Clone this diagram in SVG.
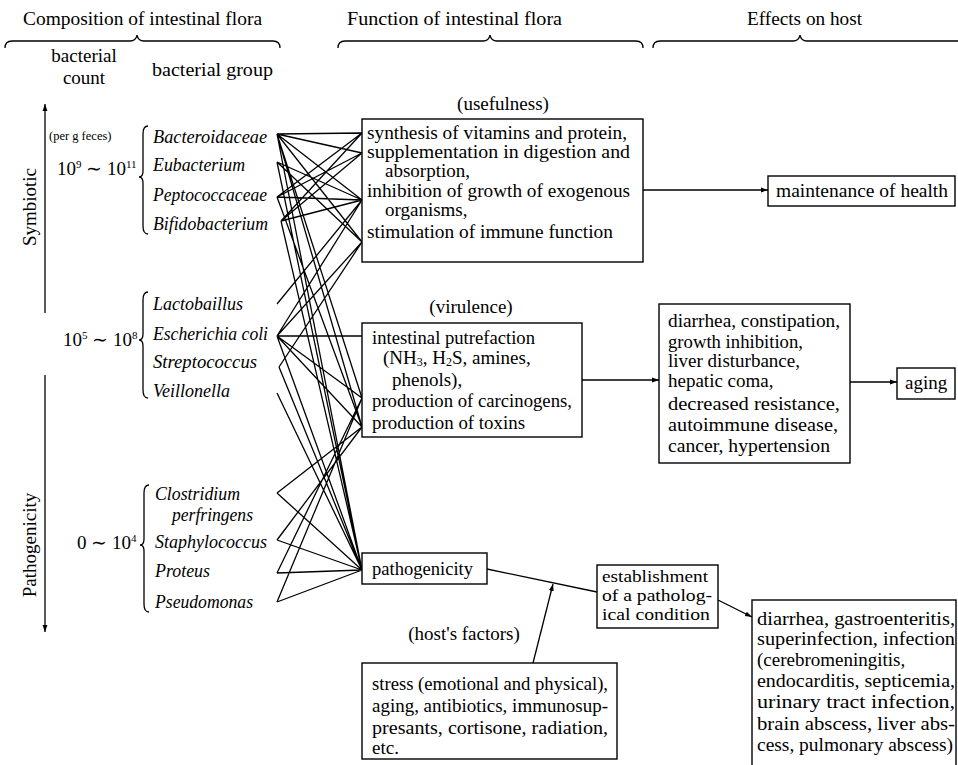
<svg xmlns="http://www.w3.org/2000/svg" width="958" height="765" viewBox="0 0 958 765">
<style>
.t{font-family:"Liberation Serif",serif;font-size:19px;fill:#000}
.e{font-family:"Liberation Serif",serif;font-size:17px;fill:#000}
.i{font-family:"Liberation Serif",serif;font-size:18.5px;font-style:italic;fill:#000}
.s{font-family:"Liberation Serif",serif;font-size:12.5px;fill:#000}
.box{fill:#fff;stroke:#000;stroke-width:1.4}
.ln{fill:none;stroke:#000;stroke-width:1.3}
.ar{fill:none;stroke:#000;stroke-width:1.3;marker-end:url(#ah)}
</style>
<defs>
<marker id="ah" viewBox="0 0 10 10" refX="10" refY="5" markerWidth="7" markerHeight="7" orient="auto" markerUnits="userSpaceOnUse">
<path d="M0,1.5 L10,5 L0,8.5 Z" fill="#000"/>
</marker>
</defs>
<rect width="958" height="765" fill="#fff"/>

<g id="headers">
<text class="t" x="23" y="25" textLength="239" lengthAdjust="spacingAndGlyphs">Composition of intestinal flora</text>
<path class="ln" d="M5,48 Q5,41 12,41 L130,41 Q136,41 137,35 Q138,41 144,41 L273,41 Q280,41 280,48"/>
<text class="t" x="347" y="25" textLength="215" lengthAdjust="spacingAndGlyphs">Function of intestinal flora</text>
<path class="ln" d="M338,48 Q338,41 345,41 L483,41 Q489,41 490,35 Q491,41 497,41 L636,41 Q643,41 643,48"/>
<text class="t" x="747" y="25" textLength="115" lengthAdjust="spacingAndGlyphs">Effects on host</text>
<path class="ln" d="M653,48 Q653,41 660,41 L793,41 Q799,41 800,35 Q801,41 807,41 L958,41"/>
<text class="t" x="84" y="62" text-anchor="middle">bacterial</text>
<text class="t" x="84" y="84" text-anchor="middle">count</text>
<text class="t" x="152" y="76" textLength="121" lengthAdjust="spacingAndGlyphs">bacterial group</text>
</g>

<g id="axis">
<line class="ar" x1="45" y1="313" x2="45" y2="104"/>
<line class="ar" x1="45" y1="375" x2="45" y2="632"/>
<text class="t" transform="translate(36,207) rotate(-90)" text-anchor="middle">Symbiotic</text>
<text class="t" transform="translate(36,545) rotate(-90)" text-anchor="middle">Pathogenicity</text>
</g>

<g id="group-symbiotic">
<text class="s" x="49" y="140">(per g feces)</text>
<text class="t" x="57" y="175">10<tspan font-size="11" dy="-7">9</tspan><tspan dy="7"> ∼ 10</tspan><tspan font-size="11" dy="-7">11</tspan></text>
<path class="ln" d="M148,126 Q143,126 143,134 L143,171 Q143,177 139,177 Q143,177 143,183 L143,226 Q143,234 148,234"/>
<text class="i" x="153" y="143" textLength="114" lengthAdjust="spacingAndGlyphs">Bacteroidaceae</text>
<text class="i" x="153" y="171" textLength="92" lengthAdjust="spacingAndGlyphs">Eubacterium</text>
<text class="i" x="153" y="201" textLength="114" lengthAdjust="spacingAndGlyphs">Peptococcaceae</text>
<text class="i" x="153" y="230" textLength="115" lengthAdjust="spacingAndGlyphs">Bifidobacterium</text>
</g>

<g id="group-mid">
<text class="t" x="63" y="346">10<tspan font-size="11" dy="-7">5</tspan><tspan dy="7"> ∼ 10</tspan><tspan font-size="11" dy="-7">8</tspan></text>
<path class="ln" d="M148,292 Q143,292 143,300 L143,334 Q143,340 139,340 Q143,340 143,346 L143,390 Q143,398 148,398"/>
<text class="i" x="153" y="310" textLength="90" lengthAdjust="spacingAndGlyphs">Lactobaillus</text>
<text class="i" x="153" y="340" textLength="115" lengthAdjust="spacingAndGlyphs">Escherichia coli</text>
<text class="i" x="153" y="368" textLength="104" lengthAdjust="spacingAndGlyphs">Streptococcus</text>
<text class="i" x="153" y="397" textLength="77" lengthAdjust="spacingAndGlyphs">Veillonella</text>
</g>

<g id="group-patho">
<text class="t" x="77" y="549">0 ∼ 10<tspan font-size="11" dy="-7">4</tspan></text>
<path class="ln" d="M149,485 Q144,485 144,493 L144,539 Q144,545 140,545 Q144,545 144,551 L144,604 Q144,612 149,612"/>
<text class="i" x="155" y="500" textLength="85" lengthAdjust="spacingAndGlyphs">Clostridium</text>
<text class="i" x="172" y="521" textLength="81" lengthAdjust="spacingAndGlyphs">perfringens</text>
<text class="i" x="155" y="548" textLength="112" lengthAdjust="spacingAndGlyphs">Staphylococcus</text>
<text class="i" x="155" y="577" textLength="55" lengthAdjust="spacingAndGlyphs">Proteus</text>
<text class="i" x="155" y="608" textLength="98" lengthAdjust="spacingAndGlyphs">Pseudomonas</text>
</g>

<g id="connectors">
<path class="ln" d="
M277,134 L362,133 M277,134 L362,153 M277,134 L362,200 M277,134 L362,242 M277,134 L362,398 M277,134 L362,427 M277,134 L362,570
M277,162 L362,200 M277,162 L362,242 M277,162 L362,570
M277,197 L362,133 M277,197 L362,153 M277,197 L362,200 M277,197 L362,427
M281,221 L362,133 M281,221 L362,153 M281,221 L362,200 M281,221 L362,570
M277,304 L362,200
M277,336 L362,242 M277,336 L362,200 M277,336 L362,336 M277,336 L362,398 M277,336 L362,427 M277,336 L362,570
M279,367 L362,242 M279,367 L362,570
M277,393 L362,570
M277,493 L362,427 M277,493 L362,570
M277,540 L362,427 M277,540 L362,570
M277,573 L362,398 M277,573 L362,570
M277,602 L362,398 M277,602 L362,570"/>
<line class="ar" x1="643" y1="190" x2="768" y2="190"/>
<line class="ar" x1="582" y1="380" x2="659" y2="380"/>
<line class="ar" x1="850" y1="382" x2="897" y2="382"/>
<line class="ln" x1="487" y1="569" x2="597" y2="592"/>
<line class="ar" x1="533" y1="663" x2="553" y2="584"/>
<line class="ar" x1="718" y1="600" x2="752" y2="617"/>
</g>

<g id="usefulness">
<text class="t" x="503" y="110" text-anchor="middle">(usefulness)</text>
<rect class="box" x="362" y="119" width="281" height="143"/>
<text class="t" x="367" y="139" textLength="260" lengthAdjust="spacingAndGlyphs">synthesis of vitamins and protein,</text>
<text class="t" x="367" y="158" textLength="263" lengthAdjust="spacingAndGlyphs">supplementation in digestion and</text>
<text class="t" x="385" y="177">absorption,</text>
<text class="t" x="367" y="197" textLength="263" lengthAdjust="spacingAndGlyphs">inhibition of growth of exogenous</text>
<text class="t" x="385" y="216">organisms,</text>
<text class="t" x="367" y="238" textLength="246" lengthAdjust="spacingAndGlyphs">stimulation of immune function</text>
</g>

<g id="maintenance">
<rect class="box" x="768" y="176" width="187" height="30"/>
<text class="t" x="776" y="197" textLength="172" lengthAdjust="spacingAndGlyphs">maintenance of health</text>
</g>

<g id="virulence">
<text class="t" x="471" y="313" text-anchor="middle">(virulence)</text>
<rect class="box" x="362" y="323" width="220" height="114"/>
<text class="t" x="372" y="344" textLength="163" lengthAdjust="spacingAndGlyphs">intestinal putrefaction</text>
<text class="t" x="383" y="364">(NH<tspan font-size="12" dy="2">3</tspan><tspan dy="-2">, H</tspan><tspan font-size="12" dy="2">2</tspan><tspan dy="-2">S, amines,</tspan></text>
<text class="t" x="392" y="386">phenols),</text>
<text class="t" x="372" y="407" textLength="200" lengthAdjust="spacingAndGlyphs">production of carcinogens,</text>
<text class="t" x="372" y="429" textLength="153" lengthAdjust="spacingAndGlyphs">production of toxins</text>
</g>

<g id="diseases">
<rect class="box" x="659" y="304" width="191" height="159"/>
<text class="t" x="668" y="327" textLength="172" lengthAdjust="spacingAndGlyphs">diarrhea, constipation,</text>
<text class="t" x="668" y="348" textLength="135" lengthAdjust="spacingAndGlyphs">growth inhibition,</text>
<text class="t" x="668" y="367" textLength="132" lengthAdjust="spacingAndGlyphs">liver disturbance,</text>
<text class="t" x="668" y="387">hepatic coma,</text>
<text class="t" x="668" y="410" textLength="172" lengthAdjust="spacingAndGlyphs">decreased  resistance,</text>
<text class="t" x="668" y="431" textLength="170" lengthAdjust="spacingAndGlyphs">autoimmune disease,</text>
<text class="t" x="668" y="452" textLength="162" lengthAdjust="spacingAndGlyphs">cancer, hypertension</text>
</g>

<g id="aging">
<rect class="box" x="897" y="368" width="58" height="31"/>
<text class="t" x="905" y="389">aging</text>
</g>

<g id="pathogenicity">
<rect class="box" x="362" y="553" width="125" height="31"/>
<text class="t" x="372" y="575" textLength="101" lengthAdjust="spacingAndGlyphs">pathogenicity</text>
</g>

<g id="establishment">
<rect class="box" x="597" y="565" width="121" height="63"/>
<text class="e" x="602" y="582" textLength="106" lengthAdjust="spacingAndGlyphs">establishment</text>
<text class="e" x="602" y="601" textLength="110" lengthAdjust="spacingAndGlyphs">of a patholog-</text>
<text class="e" x="602" y="620" textLength="108" lengthAdjust="spacingAndGlyphs">ical condition</text>
</g>

<g id="hostfactors">
<text class="t" x="464" y="640" text-anchor="middle">(host's factors)</text>
<rect class="box" x="362" y="663" width="255" height="96"/>
<text class="t" x="372" y="690" textLength="236" lengthAdjust="spacingAndGlyphs">stress (emotional and physical),</text>
<text class="t" x="372" y="712" textLength="236" lengthAdjust="spacingAndGlyphs">aging, antibiotics, immunosup-</text>
<text class="t" x="372" y="734" textLength="236" lengthAdjust="spacingAndGlyphs">presants, cortisone, radiation,</text>
<text class="t" x="372" y="754">etc.</text>
</g>

<g id="infections">
<rect class="box" x="752" y="600" width="204" height="170"/>
<text class="t" x="757" y="625" textLength="198" lengthAdjust="spacingAndGlyphs">diarrhea, gastroenteritis,</text>
<text class="t" x="757" y="645" textLength="198" lengthAdjust="spacingAndGlyphs">superinfection, infection</text>
<text class="t" x="757" y="666">(cerebromeningitis,</text>
<text class="t" x="757" y="687" textLength="198" lengthAdjust="spacingAndGlyphs">endocarditis, septicemia,</text>
<text class="t" x="757" y="708" textLength="198" lengthAdjust="spacingAndGlyphs">urinary  tract  infection,</text>
<text class="t" x="757" y="730" textLength="198" lengthAdjust="spacingAndGlyphs">brain abscess, liver abs-</text>
<text class="t" x="757" y="751" textLength="196" lengthAdjust="spacingAndGlyphs">cess, pulmonary abscess)</text>
</g>
</svg>
